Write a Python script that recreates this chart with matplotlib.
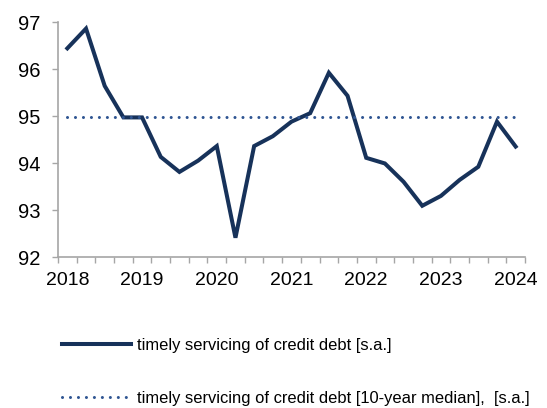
import matplotlib
matplotlib.use("Agg")
import matplotlib.pyplot as plt
import numpy as np

plt.rcParams['font.family'] = ['Liberation Sans', 'DejaVu Sans']

# Quarterly observations, 2018 Q1 .. 2024 Q1
quarters = ["2018Q1", "2018Q2", "2018Q3", "2018Q4",
            "2019Q1", "2019Q2", "2019Q3", "2019Q4",
            "2020Q1", "2020Q2", "2020Q3", "2020Q4",
            "2021Q1", "2021Q2", "2021Q3", "2021Q4",
            "2022Q1", "2022Q2", "2022Q3", "2022Q4",
            "2023Q1", "2023Q2", "2023Q3", "2023Q4",
            "2024Q1"]
timely_servicing = [96.44, 96.86, 95.64, 94.97,
                    94.97, 94.13, 93.81, 94.05,
                    94.36, 92.41, 94.36, 94.57,
                    94.88, 95.06, 95.92, 95.43,
                    94.11, 93.99, 93.60, 93.09,
                    93.30, 93.64, 93.92, 94.88,
                    94.35]
median_10y = 94.97
year_labels = ["2018", "2019", "2020", "2021", "2022", "2023", "2024"]

label_main = "timely servicing of credit debt [s.a.]"
label_median = "timely servicing of credit debt [10-year median],  [s.a.]"

navy = "#17325a"
blue = "#2f5592"
axis_grey = "#a6a6a6"

fig = plt.figure(figsize=(5.47, 4.08), dpi=100)
ax = fig.add_axes([58 / 547, 1 - 257 / 408, (525 - 58) / 547, (257 - 22) / 408])

x = np.arange(len(quarters))
line_main, = ax.plot(x, timely_servicing, color=navy, lw=2.9,
                     solid_joinstyle="miter", label=label_main)
line_med, = ax.plot(x, [median_10y] * len(x), color=blue, lw=2.2,
                    linestyle=(0, (0.01, 2.6)), dash_capstyle="round",
                    label=label_median)

ax.set_xlim(-0.5, len(quarters) - 0.5)
ax.set_ylim(92, 97)
ax.set_yticks(np.arange(92, 98, 1))
ax.tick_params(axis="y", labelsize=14.5, length=4.3, width=1, color=axis_grey,
               direction="out", pad=8.5)

# category boundaries carry the ticks, years sit under the Q1 points
ax.set_xticks(np.arange(-0.5, len(quarters), 1))
ax.set_xticklabels([])
ax.set_xticks(x[::4], minor=True)
ax.set_xticklabels(year_labels, minor=True)
ax.tick_params(axis="x", which="major", length=4.3, width=1, color=axis_grey,
               direction="out")
ax.tick_params(axis="x", which="minor", length=0, labelsize=14, pad=11)

for side in ("top", "right"):
    ax.spines[side].set_visible(False)
for side in ("left", "bottom"):
    ax.spines[side].set_color(axis_grey)
    ax.spines[side].set_linewidth(1.2)

fig.legend(handles=[line_main, line_med], loc="upper left",
           bbox_to_anchor=(62 / 547, 1 - 338 / 408), frameon=False,
           fontsize=11.9, handlelength=4.2, handletextpad=0.36,
           labelspacing=2.3, borderaxespad=0, borderpad=0)

fig.savefig("out.png", dpi=100)
